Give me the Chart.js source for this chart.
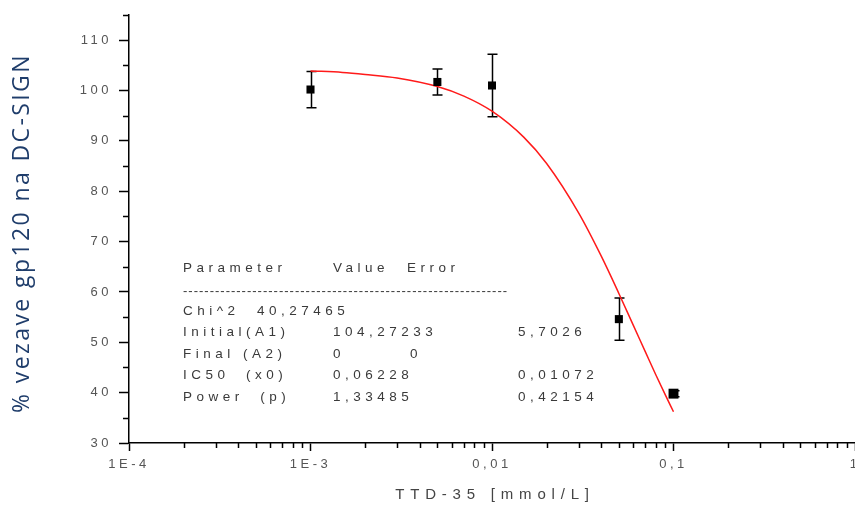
<!DOCTYPE html>
<html>
<head>
<meta charset="utf-8">
<script src="https://cdn.jsdelivr.net/npm/chart.js@4.4.1/dist/chart.umd.min.js"></script>
<style>
html,body{margin:0;padding:0;background:#fff;overflow:hidden;width:855px;height:509px;}
#wrap{position:absolute;left:0;top:0;width:880px;height:509px;}
</style>
</head>
<body>
<div id="wrap"><canvas id="c" width="880" height="509"></canvas></div>
<script>
// ---- data ----
const concentrations = [0.001, 0.005, 0.01, 0.05, 0.1];
const binding = [100.2, 101.7, 101.0, 54.6, 39.8];
const bindingErr = [3.6, 2.6, 6.2, 4.2, 0.6];

const fitX = [0.001, 0.0015, 0.002, 0.003, 0.005, 0.007, 0.01, 0.015, 0.02, 0.03, 0.04, 0.05, 0.06, 0.07, 0.08, 0.09, 0.1];
const fitY = [103.9, 103.6, 103.2, 102.5, 100.8, 98.9, 95.9, 90.7, 85.5, 75.7, 67.1, 59.7, 53.4, 48.1, 43.5, 39.6, 36.2];

const xTickValues = [0.0001, 0.001, 0.01, 0.1, 1];
const xTickLabels = ['1E-4', '1E-3', '0,01', '0,1', '1'];
const yTickValues = [30, 40, 50, 60, 70, 80, 90, 100, 110];
const yMinorValues = [35, 45, 55, 65, 75, 85, 95, 105, 115];
const xMinorMultipliers = [2, 3, 4, 5, 6, 7, 8, 9];
const xDecades = [0.0001, 0.001, 0.01, 0.1];

const yTitle = '% vezave gp120 na DC-SIGN';
const xTitle = 'TTD-35 [mmol/L]';

const paramRows = [
  ['Parameter', 'Value', 'Error'],
  ['Chi^2', '40,27465', ''],
  ['Initial(A1)', '104,27233', '5,7026'],
  ['Final (A2)', '0', '0'],
  ['IC50  (x0)', '0,06228', '0,01072'],
  ['Power  (p)', '1,33485', '0,42154']
];

const AREA_LEFT = 129, AREA_BOTTOM = 443, H = 509;

const styling = {
  id: 'styling',
  beforeLayout(chart) { chart.ctx.letterSpacing = '3.5px'; },
  beforeDraw(chart) { chart.ctx.letterSpacing = '3.5px'; },
  beforeDatasetsDraw(chart) {
    const ctx = chart.ctx, xs = chart.scales.x, ys = chart.scales.y;
    ctx.save();
    ctx.strokeStyle = '#000';
    ctx.lineWidth = 1.5;
    concentrations.forEach((c, i) => {
      const px = Math.round(xs.getPixelForValue(c)) + 0.5;
      const top = ys.getPixelForValue(binding[i] + bindingErr[i]);
      const bot = ys.getPixelForValue(binding[i] - bindingErr[i]);
      ctx.beginPath();
      ctx.moveTo(px, top); ctx.lineTo(px, bot);
      ctx.moveTo(px - 5, top); ctx.lineTo(px + 5, top);
      ctx.moveTo(px - 5, bot); ctx.lineTo(px + 5, bot);
      ctx.stroke();
    });
    ctx.restore();
  },
  afterDraw(chart) {
    const ctx = chart.ctx, xs = chart.scales.x, ys = chart.scales.y;
    const area = chart.chartArea;
    ctx.save();
    // minor ticks
    ctx.strokeStyle = '#000';
    ctx.lineWidth = 1.5;
    ctx.beginPath();
    xDecades.forEach(d => xMinorMultipliers.forEach(m => {
      const px = Math.round(xs.getPixelForValue(d * m)) + 0.5;
      ctx.moveTo(px, area.bottom); ctx.lineTo(px, area.bottom + 5);
    }));
    yMinorValues.forEach(v => {
      const py = Math.round(ys.getPixelForValue(v)) + 0.5;
      ctx.moveTo(area.left, py); ctx.lineTo(area.left - 6, py);
    });
    ctx.stroke();

    // axis titles
    ctx.fillStyle = '#444';
    ctx.font = '15px "Liberation Sans", Arial, sans-serif';
    ctx.letterSpacing = '5.8px';
    ctx.textAlign = 'center';
    ctx.textBaseline = 'middle';
    ctx.fillText(xTitle, (area.left + area.right) / 2 + 3, 495);

    ctx.save();
    ctx.translate(22, 233);
    ctx.rotate(-Math.PI / 2);
    ctx.fillStyle = '#1f3d6b';
    ctx.font = '23px "Open Sans", sans-serif';
    ctx.letterSpacing = '2.4px';
    ctx.fillText(yTitle, 0, 0);
    ctx.restore();

    // parameter table
    ctx.fillStyle = '#3a3a3a';
    ctx.font = '13.5px "Liberation Sans", Arial, sans-serif';
    ctx.letterSpacing = '4.5px';
    ctx.textAlign = 'left';
    const rowY = [268, 311, 332, 354, 375, 397];
    const col2 = [333, 257, 333, 333, 333, 333];
    const col3 = [407, 0, 518, 410, 518, 518];
    paramRows.forEach((r, i) => {
      ctx.fillText(r[0], 183, rowY[i]);
      ctx.fillText(r[1], col2[i], rowY[i]);
      if (r[2]) ctx.fillText(r[2], col3[i], rowY[i]);
    });
    ctx.font = '13px "Liberation Sans", Arial, sans-serif';
    ctx.letterSpacing = '1px';
    ctx.fillText('-------------------------------------------------------------', 183, 291);
    ctx.restore();
  }
};

new Chart(document.getElementById('c'), {
  type: 'scatter',
  data: {
    datasets: [
      {
        label: 'fit',
        type: 'line',
        data: fitX.map((x, i) => ({x: x, y: fitY[i]})),
        borderColor: '#ff1a1a',
        borderWidth: 1.5,
        pointRadius: 0,
        cubicInterpolationMode: 'monotone',
        fill: false,
        order: 2
      },
      {
        label: 'measured',
        data: concentrations.map((c, i) => ({x: c, y: binding[i]})),
        pointStyle: 'rect',
        pointRadius: ctx => ctx.dataIndex === 4 ? 7 : 5.7,
        backgroundColor: '#000',
        borderColor: '#000',
        borderWidth: 0,
        order: 1
      }
    ]
  },
  options: {
    responsive: false,
    animation: false,
    layout: {padding: {left: 0, top: 15, right: 25, bottom: 0}},
    plugins: {legend: {display: false}, tooltip: {enabled: false}, title: {display: false}},
    scales: {
      x: {
        type: 'logarithmic',
        min: 0.0001,
        max: 1,
        afterBuildTicks: s => { s.ticks = xTickValues.map(v => ({value: v})); },
        afterFit: s => { s.height = H - AREA_BOTTOM; },
        ticks: {
          autoSkip: false, maxRotation: 0, minRotation: 0, padding: 6,
          color: '#555',
          font: {family: '"Liberation Sans", Arial, sans-serif', size: 13},
          callback: (v, i) => xTickLabels[i]
        },
        grid: {display: true, drawOnChartArea: false, drawTicks: true, tickLength: 8, tickColor: '#000', tickWidth: 1.5},
        border: {display: true, color: '#000', width: 1.5}
      },
      y: {
        type: 'linear',
        min: 30,
        max: 115,
        afterBuildTicks: s => { s.ticks = yTickValues.map(v => ({value: v})); },
        afterFit: s => { s.width = AREA_LEFT; },
        ticks: {
          padding: 7, color: '#555',
          font: {family: '"Liberation Sans", Arial, sans-serif', size: 13},
          callback: v => String(v)
        },
        grid: {display: true, drawOnChartArea: false, drawTicks: true, tickLength: 10, tickColor: '#000', tickWidth: 1.5},
        border: {display: true, color: '#000', width: 1.5}
      }
    }
  },
  plugins: [styling]
});
</script>
</body>
</html>
